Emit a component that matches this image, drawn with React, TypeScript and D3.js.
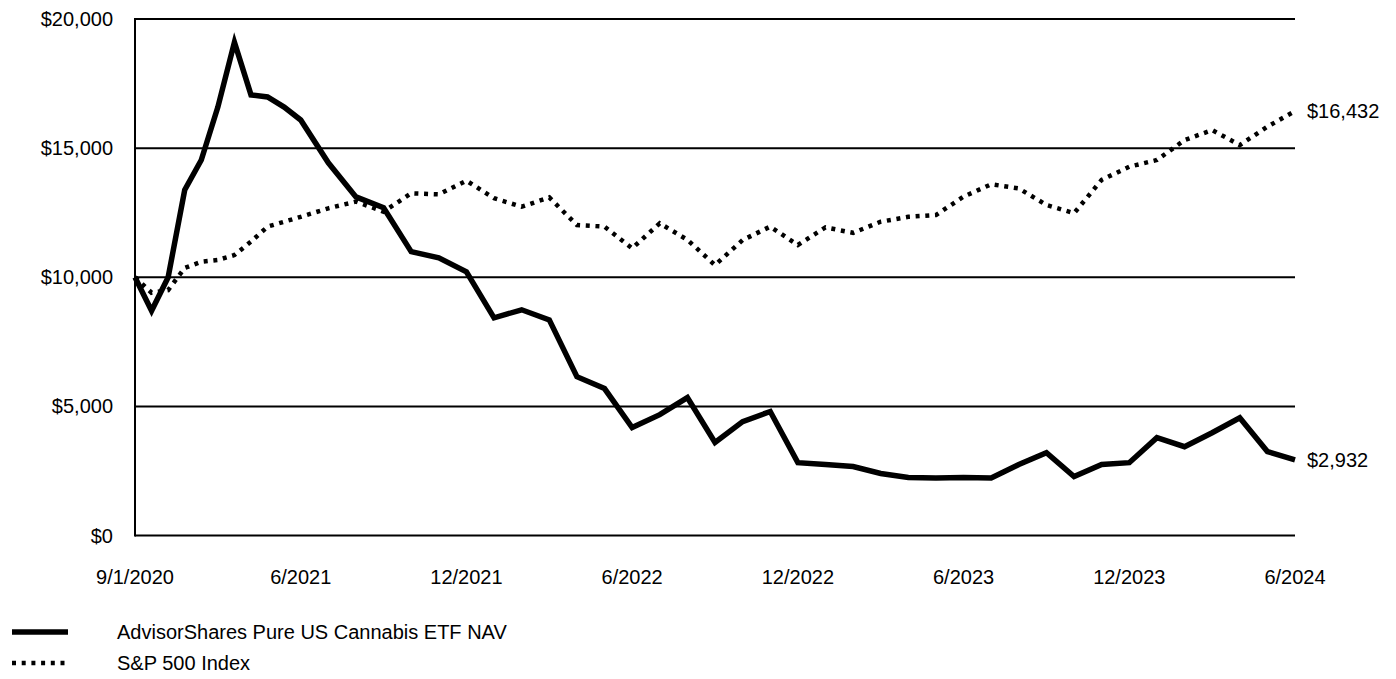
import React from 'react';
import * as d3 from 'd3';

const etfName = 'AdvisorShares Pure US Cannabis ETF NAV';
const indexName = 'S&P 500 Index';

// 9/1/2020 start, then month-ends through 6/2024
const etfValues = [
  10000, 8700, 10000, 13380, 14540, 16590, 19100, 17060, 16980, 16590, 16090,
  14430, 13110, 12690, 10990, 10750, 10210, 8430, 8740, 8350, 6150, 5690,
  4180, 4680, 5340, 3600, 4410, 4800, 2820, 2750, 2670, 2400, 2250,
  2230, 2250, 2230, 2750, 3210, 2280, 2750, 2820, 3790, 3440, 3980,
  4560, 3250, 2932,
];
const spValues = [
  10000, 9400, 9500, 10360, 10600, 10670, 10860, 11380, 11960, 12150, 12340,
  12670, 12930, 12540, 13250, 13210, 13740, 13060, 12730, 13090, 12020, 11960,
  11120, 12090, 11450, 10470, 11440, 11960, 11250, 11930, 11720, 12150, 12340,
  12410, 13120, 13600, 13440, 12800, 12480, 13770, 14280, 14540, 15310, 15700,
  15120, 15830, 16432,
];

const xLabels = ['9/1/2020', '6/2021', '12/2021', '6/2022', '12/2022', '6/2023', '12/2023', '6/2024'];
const xLabelIdx = [0, 10, 16, 22, 28, 34, 40, 46];
const yTicks = [0, 5000, 10000, 15000, 20000];

const W = 1396;
const H = 679;
const left = 135;
const right = 1295;
const top = 19;
const bottom = 535.5;
const font = '"Liberation Sans", Arial, sans-serif';

export default function App() {
  // labels sit evenly apart, points between them spread evenly
  const x = d3.scaleLinear()
    .domain(xLabelIdx)
    .range(xLabelIdx.map((_, i) => left + (i * (right - left)) / (xLabelIdx.length - 1)));
  const y = d3.scaleLinear().domain([0, 20000]).range([bottom, top]);

  const line = d3.line<number>()
    .x((_, i) => x(i))
    .y(d => y(d));

  const fmt = (v: number) => '$' + d3.format(',')(v);
  const lastI = etfValues.length - 1;

  return (
    <svg width={W} height={H} style={{ position: 'absolute', left: 0, top: 0, background: '#fff' }}
      fontFamily={font} fontSize={20} fill="#000">
      {yTicks.map(t => (
        <g key={t}>
          {t > 0 && <line x1={left} x2={right} y1={y(t)} y2={y(t)} stroke="#000" strokeWidth={2} />}
          <text x={113} y={y(t)} textAnchor="end" dominantBaseline="central">{fmt(t)}</text>
        </g>
      ))}
      <line x1={left} x2={right} y1={bottom} y2={bottom} stroke="#000" strokeWidth={2} />
      <line x1={left} x2={left} y1={top - 1} y2={bottom + 1} stroke="#000" strokeWidth={2} />

      {xLabels.map((lab, i) => (
        <text key={lab} x={x(xLabelIdx[i])} y={577} textAnchor="middle" dominantBaseline="central">{lab}</text>
      ))}

      <path d={line(spValues) || ''} fill="none" stroke="#000" strokeWidth={4.5} strokeDasharray="4 5.7" />
      <path d={line(etfValues) || ''} fill="none" stroke="#000" strokeWidth={5.5} strokeLinejoin="miter" strokeMiterlimit={10} />

      <text x={1307} y={y(spValues[lastI])} dominantBaseline="central">{fmt(spValues[lastI])}</text>
      <text x={1307} y={y(etfValues[lastI])} dominantBaseline="central">{fmt(etfValues[lastI])}</text>

      <line x1={12} x2={68} y1={632} y2={632} stroke="#000" strokeWidth={5.5} />
      <text x={117} y={632} dominantBaseline="central">{etfName}</text>
      <line x1={12} x2={68} y1={663} y2={663} stroke="#000" strokeWidth={4.5} strokeDasharray="4 5.7" />
      <text x={117} y={663} dominantBaseline="central">{indexName}</text>
    </svg>
  );
}
